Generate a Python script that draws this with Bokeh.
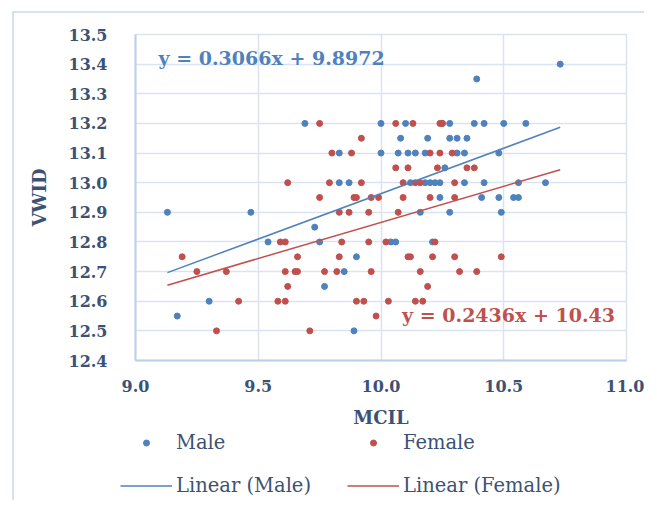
import numpy as np
from bokeh.plotting import figure
from bokeh.layouts import column
from bokeh.models import Range1d, FixedTicker, NumeralTickFormatter, Legend, LegendItem, Label
from bokeh.embed import file_html
from bokeh.resources import INLINE

# ---------------- data ----------------
male_x = [10.73, 10.39,
          9.69, 10.00, 10.10, 10.25, 10.28, 10.38, 10.42, 10.50, 10.59,
          10.08, 10.19, 10.28, 10.31, 10.35,
          9.83, 10.00, 10.07, 10.11, 10.14, 10.18, 10.31, 10.34, 10.48,
          10.26,
          9.83, 9.87, 10.12, 10.18, 10.20, 10.22, 10.24, 10.34, 10.42, 10.56, 10.67,
          10.24, 10.41, 10.48, 10.54, 10.56,
          9.13, 9.47, 10.16, 10.28, 10.49,
          9.73,
          9.54, 9.75, 10.04, 10.06, 10.21,
          9.90, 9.85, 9.77, 9.30, 9.17, 9.89]
male_y = [13.40, 13.35,
          13.20, 13.20, 13.20, 13.20, 13.20, 13.20, 13.20, 13.20, 13.20,
          13.15, 13.15, 13.15, 13.15, 13.15,
          13.10, 13.10, 13.10, 13.10, 13.10, 13.10, 13.10, 13.10, 13.10,
          13.05,
          13.00, 13.00, 13.00, 13.00, 13.00, 13.00, 13.00, 13.00, 13.00, 13.00, 13.00,
          12.95, 12.95, 12.95, 12.95, 12.95,
          12.90, 12.90, 12.90, 12.90, 12.90,
          12.85,
          12.80, 12.80, 12.80, 12.80, 12.80,
          12.75, 12.70, 12.65, 12.60, 12.55, 12.50]

female_x = [9.75, 10.06, 10.13, 10.24, 10.25,
            9.92,
            9.80, 9.88, 10.20, 10.24, 10.29,
            10.06, 10.11, 10.23, 10.35, 10.38,
            9.62, 9.79, 9.92, 10.09, 10.14, 10.16, 10.30,
            9.75, 9.89, 9.90, 9.96, 9.99, 10.09, 10.20, 10.30,
            9.83, 9.87, 9.95, 10.07,
            9.59, 9.61, 9.84, 9.95, 10.02, 10.22,
            9.19, 9.66, 9.83, 10.11, 10.12, 10.21, 10.30, 10.49,
            9.25, 9.37, 9.61, 9.65, 9.66, 9.77, 9.82, 9.96, 10.16, 10.32, 10.39,
            9.62, 10.19,
            9.42, 9.58, 9.61, 9.90, 9.93, 10.03, 10.14, 10.17,
            9.98,
            9.33, 9.71]
female_y = [13.20, 13.20, 13.20, 13.20, 13.20,
            13.15,
            13.10, 13.10, 13.10, 13.10, 13.10,
            13.05, 13.05, 13.05, 13.05, 13.05,
            13.00, 13.00, 13.00, 13.00, 13.00, 13.00, 13.00,
            12.95, 12.95, 12.95, 12.95, 12.95, 12.95, 12.95, 12.95,
            12.90, 12.90, 12.90, 12.90,
            12.80, 12.80, 12.80, 12.80, 12.80, 12.80,
            12.75, 12.75, 12.75, 12.75, 12.75, 12.75, 12.75, 12.75,
            12.70, 12.70, 12.70, 12.70, 12.70, 12.70, 12.70, 12.70, 12.70, 12.70, 12.70,
            12.65, 12.65,
            12.60, 12.60, 12.60, 12.60, 12.60, 12.60, 12.60, 12.60,
            12.55,
            12.50, 12.50]

male_slope, male_intercept = 0.3066, 9.8972
female_slope, female_intercept = 0.2436, 10.43
trend_x = [9.13, 10.73]

male_eq = "y = 0.3066x + 9.8972"
female_eq = "y = 0.2436x + 10.43"

x_ticks = [9.0, 9.5, 10.0, 10.5, 11.0]
y_ticks = [12.4, 12.5, 12.6, 12.7, 12.8, 12.9, 13.0, 13.1, 13.2, 13.3, 13.4, 13.5]
x_title = "MCIL"
y_title = "VWID"
legend_labels = ["Male", "Female", "Linear (Male)", "Linear (Female)"]

# ---------------- styling ----------------
BLUE = "#4f81bd"
RED = "#c0504d"
GRID = "#d9e3f2"
AXIS = "#bccfe9"
TXT = "#3b5275"
FONT = "DejaVu Serif"
BORDER = "2px solid #d6e1f1"

p = figure(width=630, height=417, frame_width=489, frame_height=324,
           output_backend="svg", toolbar_location=None,
           x_range=Range1d(x_ticks[0], x_ticks[-1]), y_range=Range1d(y_ticks[0], y_ticks[-1]),
           min_border_left=121, min_border_right=20, min_border_top=21, min_border_bottom=72,
           margin=(11, 0, 0, 12),
           styles={"border-left": BORDER, "border-top": BORDER})
p.outline_line_color = GRID
p.outline_line_width = 1.5
p.background_fill_color = "white"
p.border_fill_color = "white"

p.xaxis.ticker = FixedTicker(ticks=x_ticks)
p.yaxis.ticker = FixedTicker(ticks=y_ticks)
p.xgrid.ticker = FixedTicker(ticks=x_ticks)
p.ygrid.ticker = FixedTicker(ticks=y_ticks)
p.xaxis.formatter = NumeralTickFormatter(format="0.0")
p.yaxis.formatter = NumeralTickFormatter(format="0.0")
for g in (p.xgrid, p.ygrid):
    g.grid_line_color = GRID
    g.grid_line_width = 1.5

for ax in (p.xaxis, p.yaxis):
    ax.axis_line_color = AXIS
    ax.axis_line_width = 2
    ax.major_tick_line_color = None
    ax.minor_tick_line_color = None
    ax.major_label_text_font = FONT
    ax.major_label_text_font_size = "16px"
    ax.major_label_text_font_style = "bold"
    ax.major_label_text_color = TXT
    ax.axis_label_text_font = FONT
    ax.axis_label_text_font_size = "18px"
    ax.axis_label_text_font_style = "bold"
    ax.axis_label_text_color = TXT

p.xaxis.axis_label = x_title
p.yaxis.axis_label = y_title
p.xaxis.major_label_standoff = 13
p.xaxis.axis_label_standoff = 12
p.yaxis.major_label_standoff = 22
p.yaxis.axis_label_standoff = 16

p.scatter(male_x, male_y, size=6, color=BLUE, line_color=BLUE)
p.scatter(female_x, female_y, size=6, color=RED, line_color=RED)

tx = np.array(trend_x)
p.line(tx, male_slope * tx + male_intercept, line_color=BLUE, line_width=1.5)
p.line(tx, female_slope * tx + female_intercept, line_color=RED, line_width=1.5)

p.add_layout(Label(x=9.094, y=13.42, text=male_eq, text_font=FONT, text_font_size="19px",
                   text_font_style="bold", text_color=BLUE, text_baseline="middle", text_align="left"))
p.add_layout(Label(x=10.086, y=12.553, text=female_eq, text_font=FONT, text_font_size="19px",
                   text_font_style="bold", text_color=RED, text_baseline="middle", text_align="left"))

# ---------------- legend strip (below the chart) ----------------
# ranges chosen so that the series themselves fall outside this strip's view;
# only the legend samples are visible here.
q = figure(width=630, height=70, output_backend="svg", toolbar_location=None,
           x_range=Range1d(0, 1), y_range=Range1d(0, 1),
           min_border_left=0, min_border_right=0, min_border_top=0, min_border_bottom=0,
           margin=(0, 0, 0, 12), styles={"border-left": BORDER})
q.axis.visible = False
q.grid.visible = False
q.outline_line_color = None
q.border_fill_color = "white"
for fig in (p, q):
    try:
        fig.frame_align = False
    except Exception:
        pass

km = q.scatter(male_x, male_y, size=6, color=BLUE, line_color=BLUE)
kf = q.scatter(female_x, female_y, size=6, color=RED, line_color=RED)
klm = q.line(tx, male_slope * tx + male_intercept, line_color=BLUE, line_width=1.5)
klf = q.line(tx, female_slope * tx + female_intercept, line_color=RED, line_width=1.5)

legend = Legend(items=[LegendItem(label=legend_labels[0], renderers=[km]),
                       LegendItem(label=legend_labels[1], renderers=[kf]),
                       LegendItem(label=legend_labels[2], renderers=[klm]),
                       LegendItem(label=legend_labels[3], renderers=[klf])],
                orientation="horizontal", ncols=2,
                location=(106, 3),
                glyph_width=52, glyph_height=15, label_height=20, label_width=151,
                label_standoff=4, spacing=20, padding=4, margin=0,
                label_text_font=FONT, label_text_font_size="19.5px", label_text_color=TXT,
                background_fill_alpha=0, border_line_color=None)
q.add_layout(legend, "center")

layout = column(p, q, spacing=0)
open("out.html", "w").write(file_html(layout, INLINE))
